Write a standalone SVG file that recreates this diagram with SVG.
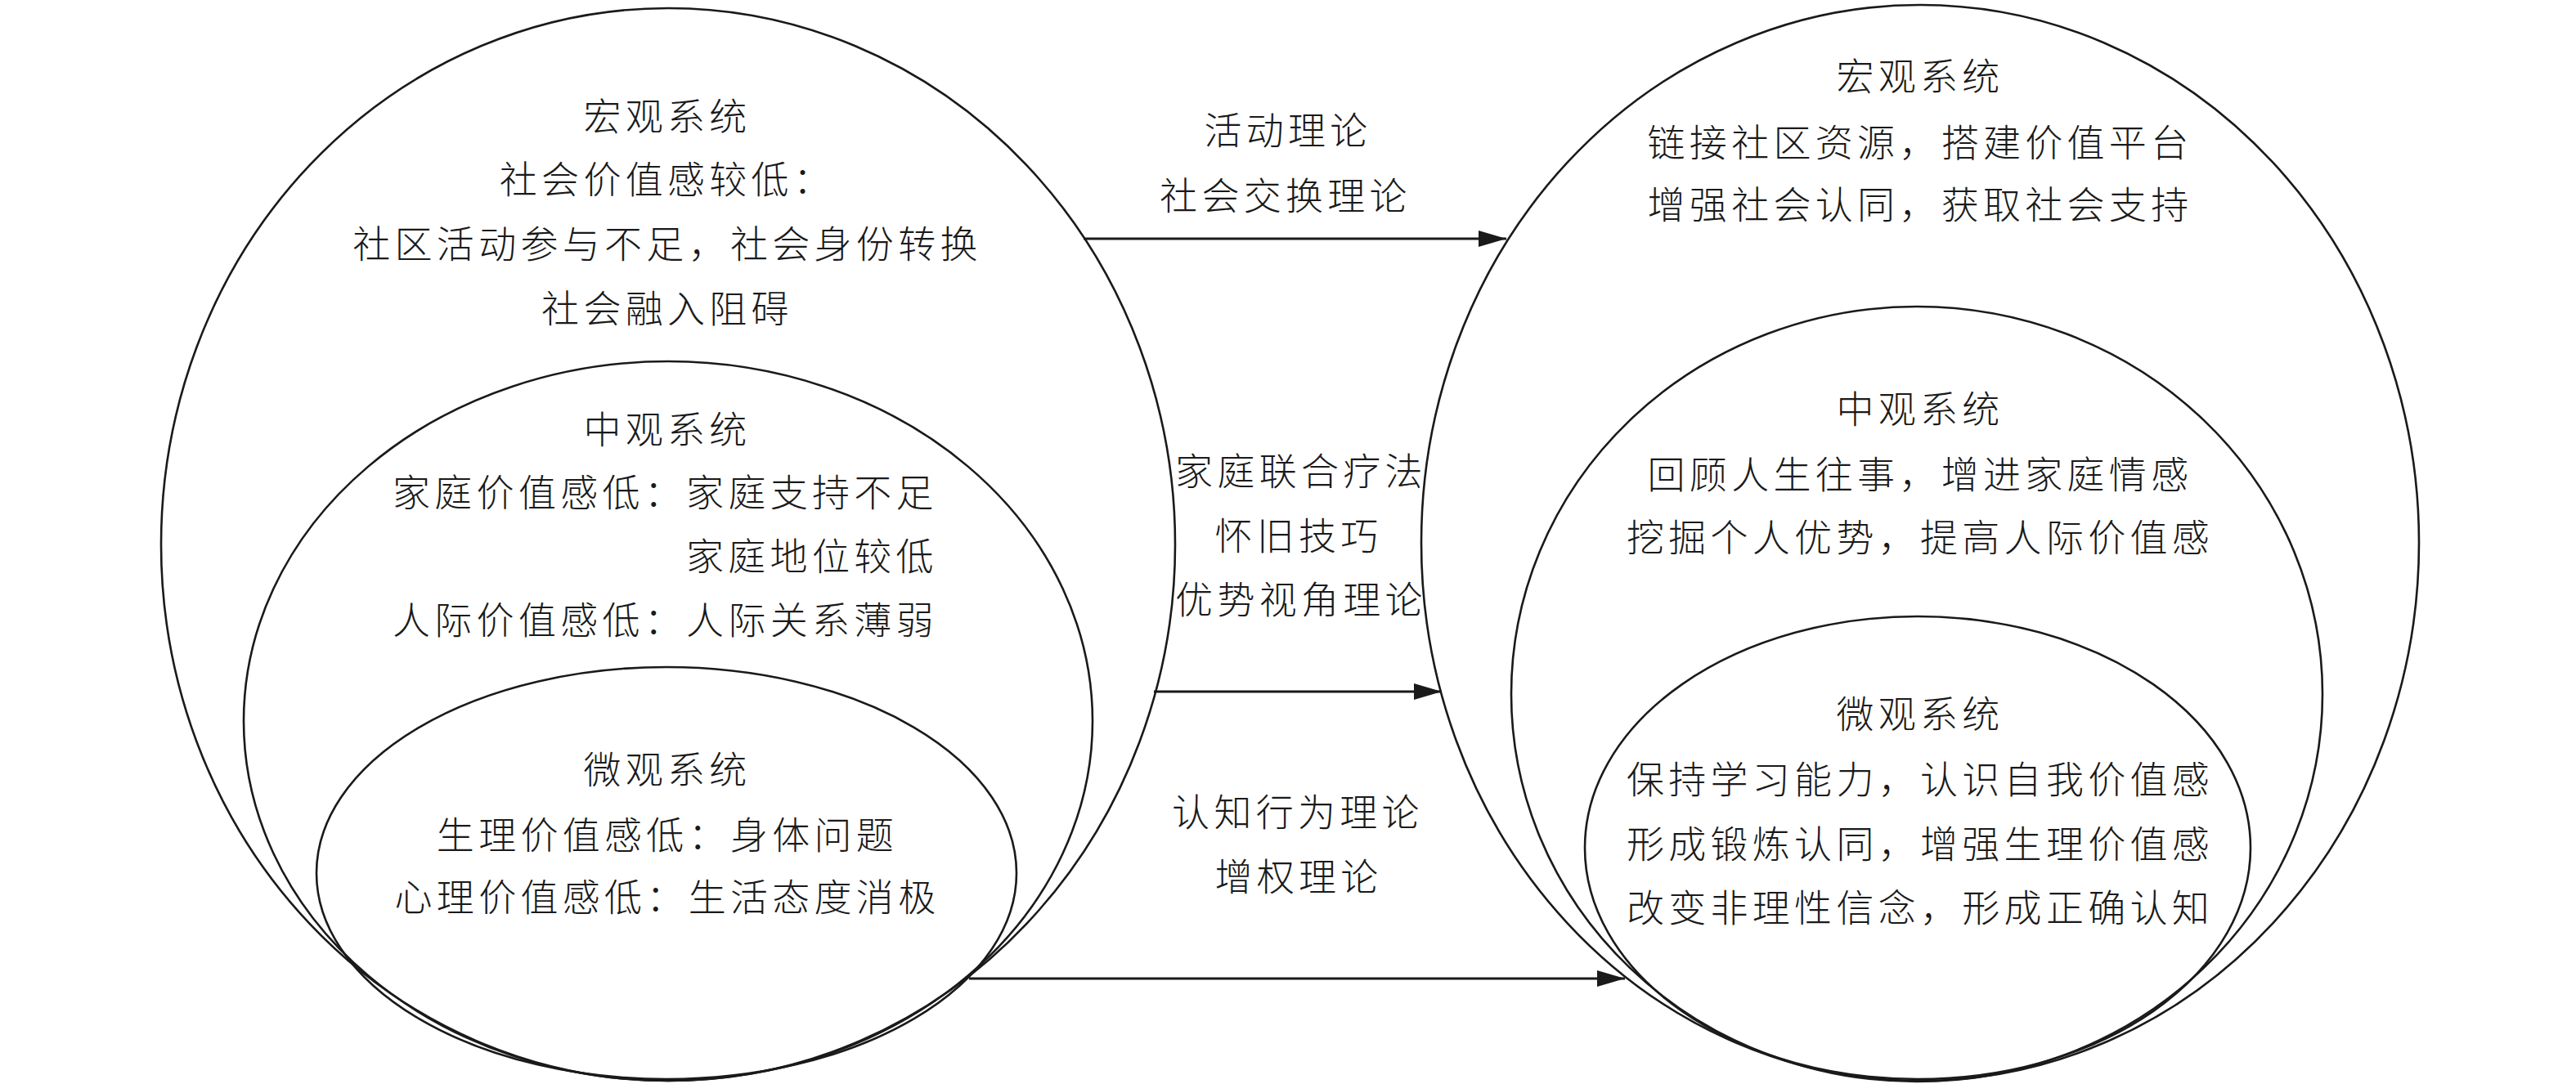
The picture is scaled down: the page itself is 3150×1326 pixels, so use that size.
<svg xmlns="http://www.w3.org/2000/svg" width="3150" height="1326" viewBox="0 0 3150 1326">
<style>
.sh{fill:none;stroke:#1a1a1a;stroke-width:2.6}
.t{font-family:"Noto Sans CJK SC","Noto Sans CJK JP",sans-serif;font-size:46px;font-weight:300;fill:#1a1a1a;letter-spacing:5.3px}
.c{text-anchor:middle}
.cn{fill:none;stroke:#1a1a1a;stroke-width:3}
</style>
<defs>
<marker id="ah" markerUnits="userSpaceOnUse" markerWidth="36" markerHeight="22" refX="34" refY="10" orient="auto">
<path d="M0,0 L34,10 L0,20 Z" fill="#1a1a1a"/>
</marker>
</defs>
<rect width="3150" height="1326" fill="#fff"/>
<g id="left-macro">
<ellipse class="sh" cx="817" cy="666" rx="620" ry="656"/>
<text class="t c" x="816" y="159">宏观系统</text>
<text class="t c" x="816" y="236">社会价值感较低：</text>
<text class="t c" x="816" y="315">社区活动参与不足，社会身份转换</text>
<text class="t c" x="816" y="394">社会融入阻碍</text>
</g>
<g id="left-meso">
<ellipse class="sh" cx="817" cy="882" rx="519" ry="440"/>
<text class="t c" x="816" y="542">中观系统</text>
<text class="t" x="480" y="619">家庭价值感低：家庭支持不足</text>
<text class="t" x="839" y="697">家庭地位较低</text>
<text class="t" x="480" y="775">人际价值感低：人际关系薄弱</text>
</g>
<g id="left-micro">
<ellipse class="sh" cx="815" cy="1068" rx="428" ry="252"/>
<text class="t c" x="816" y="958">微观系统</text>
<text class="t c" x="816" y="1038">生理价值感低：身体问题</text>
<text class="t c" x="816" y="1114">心理价值感低：生活态度消极</text>
</g>
<g id="right-macro">
<ellipse class="sh" cx="2348" cy="664" rx="610" ry="658"/>
<text class="t c" x="2348" y="110">宏观系统</text>
<text class="t c" x="2348" y="191">链接社区资源，搭建价值平台</text>
<text class="t c" x="2348" y="267">增强社会认同，获取社会支持</text>
</g>
<g id="right-meso">
<ellipse class="sh" cx="2344" cy="849" rx="496" ry="474"/>
<text class="t c" x="2348" y="517">中观系统</text>
<text class="t c" x="2348" y="597">回顾人生往事，增进家庭情感</text>
<text class="t c" x="2348" y="674">挖掘个人优势，提高人际价值感</text>
</g>
<g id="right-micro">
<ellipse class="sh" cx="2345" cy="1037" rx="407" ry="283"/>
<text class="t c" x="2348" y="890">微观系统</text>
<text class="t c" x="2348" y="970">保持学习能力，认识自我价值感</text>
<text class="t c" x="2348" y="1049">形成锻炼认同，增强生理价值感</text>
<text class="t c" x="2348" y="1127">改变非理性信念，形成正确认知</text>
</g>
<g id="connectors">
<line class="cn" x1="1325" y1="292" x2="1842" y2="292" marker-end="url(#ah)"/>
<line class="cn" x1="1411" y1="846" x2="1763" y2="846" marker-end="url(#ah)"/>
<line class="cn" x1="1185" y1="1197" x2="1987" y2="1197" marker-end="url(#ah)"/>
</g>
<g id="labels">
<text class="t c" x="1575" y="176">活动理论</text>
<text class="t c" x="1572" y="256">社会交换理论</text>
<text class="t c" x="1591" y="593">家庭联合疗法</text>
<text class="t c" x="1588" y="672">怀旧技巧</text>
<text class="t c" x="1591" y="750">优势视角理论</text>
<text class="t c" x="1587" y="1010">认知行为理论</text>
<text class="t c" x="1588" y="1089">增权理论</text>
</g>
</svg>
